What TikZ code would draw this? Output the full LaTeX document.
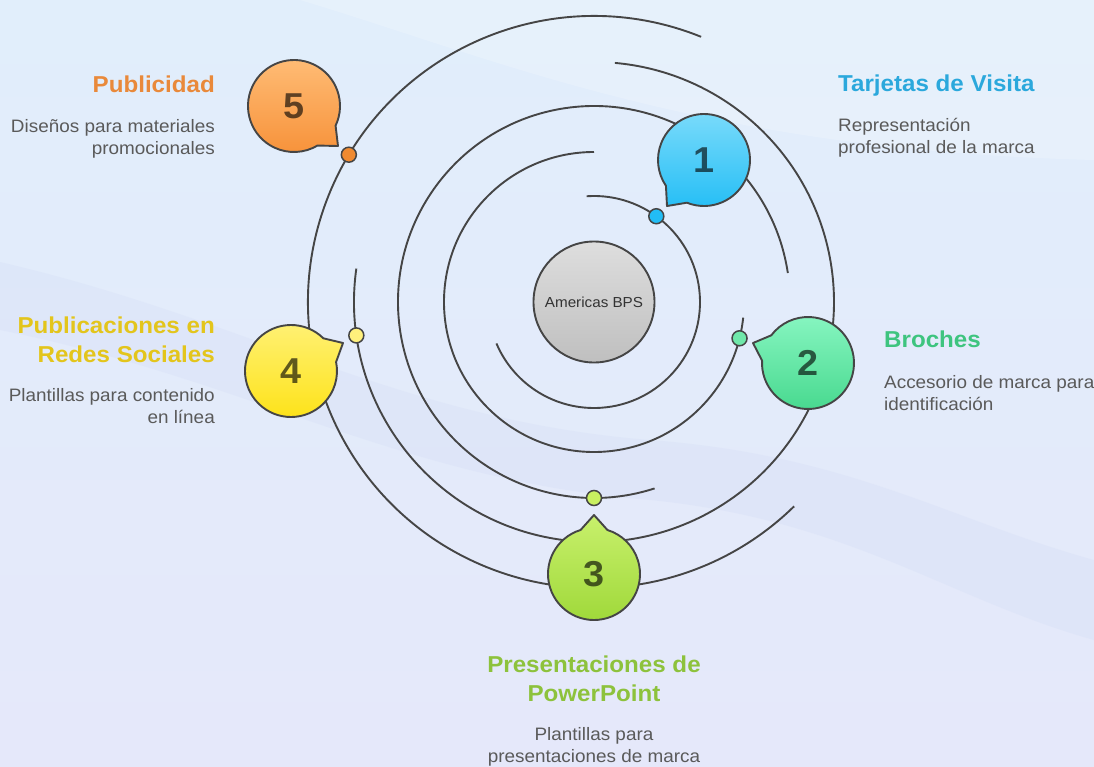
\documentclass[tikz,border=0pt]{standalone}
\usepackage{fontspec}
\setmainfont[FakeStretch=1.05]{Liberation Sans}
\usetikzlibrary{calc}
\definecolor{bgtop}{HTML}{E1EEFB}
\definecolor{bgbot}{HTML}{E5E8FA}
\definecolor{bandc}{HTML}{D3DCF6}
\definecolor{linec}{HTML}{454545}
\definecolor{bodyc}{HTML}{5A5A5A}
\definecolor{tOrange}{HTML}{E9893A}
\definecolor{tBlue}{HTML}{2BA8DC}
\definecolor{tGreen}{HTML}{3EC47F}
\definecolor{tYellow}{HTML}{E3C51C}
\definecolor{tLime}{HTML}{8DC23C}
\definecolor{aTop}{HTML}{7DDCFB}\definecolor{aBot}{HTML}{22BDF5}
\definecolor{bTop}{HTML}{86F5C0}\definecolor{bBot}{HTML}{48D98F}
\definecolor{cTop}{HTML}{C8F06C}\definecolor{cBot}{HTML}{9ED838}
\definecolor{dTop}{HTML}{FFF176}\definecolor{dBot}{HTML}{FDE216}
\definecolor{eTop}{HTML}{FFBE78}\definecolor{eBot}{HTML}{F7923A}
\definecolor{dotA}{HTML}{22BDF5}
\definecolor{dotB}{HTML}{6FE8AA}
\definecolor{dotC}{HTML}{C9F060}
\definecolor{dotD}{HTML}{FFF07C}
\definecolor{dotE}{HTML}{F08A30}
\newcommand\speechbubble[5]{%
  \path[bubble, top color=#4, bottom color=#5]
    ($(#1)+({#2+17}:46)$) arc[start angle={#2+17}, end angle={#2+343}, radius=46] -- (#3) -- cycle;}
\begin{document}
\begin{tikzpicture}[x=1pt,y=1pt,
  arcline/.style={draw=linec, line width=1.9pt},
  bubble/.style={draw=linec, line width=1.9pt, line join=round},
  dotnode/.style={circle, draw=linec, line width=1.5pt, minimum size=15pt, inner sep=0pt},
  num/.style={font=\fontsize{36}{36}\selectfont\bfseries, text=black, text opacity=0.62, inner sep=0pt},
  hubnode/.style={circle, draw=linec, line width=1.9pt, minimum size=121pt, inner sep=0pt,
    top color=gray!26, bottom color=gray!50, font=\fontsize{14.5}{16}\selectfont, text=black!80},
  ttl/.style={font=\fontsize{23}{29}\selectfont\bfseries, inner sep=0pt},
  body/.style={font=\fontsize{18}{22}\selectfont, text=bodyc, inner sep=0pt}]
\useasboundingbox (-594,-464) rectangle (500,302);
\shade[top color=bgtop, bottom color=bgbot] (-594,-464) rectangle (500,302);
\begin{scope}[shift={(-594,302)},yscale=-1]
  \fill[bandc, opacity=.3] (0,262) .. controls (250,320) and (400,420) .. (650,440)
     .. controls (850,455) and (950,520) .. (1094,560) -- (1094,640)
     .. controls (950,600) and (850,520) .. (650,500)
     .. controls (400,480) and (250,380) .. (0,330) -- cycle;
  \fill[white, opacity=.18] (300,0) .. controls (500,60) and (700,150) .. (1094,160) -- (1094,0) -- cycle;
\end{scope}
% orbits
\draw[arcline] (94:106) arc[start angle=94, end angle=-157, radius=106];
\draw[arcline] (90:150) arc[start angle=90, end angle=354, radius=150];
\draw[arcline] (8.5:196) arc[start angle=8.5, end angle=288, radius=196];
\draw[arcline] (172:240) arc[start angle=172, end angle=445, radius=240];
\draw[arcline] (68:286) arc[start angle=68, end angle=314.4, radius=286];
% hub
\node[hubnode] (hub) at (0,0) {Americas BPS};
% bubble centres and tips
\coordinate (c1) at (110,142);  \coordinate (t1) at (73,96);
\coordinate (c2) at (214,-61);  \coordinate (t2) at (159,-41);
\coordinate (c3) at (0,-272);   \coordinate (t3) at (0,-213);
\coordinate (c4) at (-303,-69); \coordinate (t4) at (-251,-41);
\coordinate (c5) at (-300,196); \coordinate (t5) at (-256,156);
\speechbubble{c1}{231.2}{t1}{aTop}{aBot}
\speechbubble{c2}{160}{t2}{bTop}{bBot}
\speechbubble{c3}{90}{t3}{cTop}{cBot}
\speechbubble{c4}{28.3}{t4}{dTop}{dBot}
\speechbubble{c5}{317.7}{t5}{eTop}{eBot}
\node[num] (n1) at (c1) {1};
\node[num] (n2) at (c2) {2};
\node[num] (n3) at (c3) {3};
\node[num] (n4) at (c4) {4};
\node[num] (n5) at (c5) {5};
% dots
\node[dotnode, fill=dotA] (d1) at (54:106) {};
\node[dotnode, fill=dotB] (d2) at (-14:150) {};
\node[dotnode, fill=dotC] (d3) at (270:196) {};
\node[dotnode, fill=dotD] (d4) at (188:240) {};
\node[dotnode, fill=dotE] (d5) at (149:286) {};
% texts
\node[ttl, text=tOrange, anchor=east] (h5) at (-379,218) {Publicidad};
\node[body, align=right, anchor=north east] (b5) at (-379,183) {Diseños para materiales\\promocionales};
\node[ttl, text=tBlue, anchor=north west] (h1) at (244,227) {Tarjetas de Visita};
\node[body, align=left, anchor=north west] (b1) at (244,184) {Representación\\profesional de la marca};
\node[ttl, text=tGreen, anchor=north west] (h2) at (290,-29) {Broches};
\node[body, align=left, anchor=north west] (b2) at (290,-73) {Accesorio de marca para\\identificación};
\node[ttl, text=tYellow, align=right, anchor=north east] (h4) at (-379,-15) {Publicaciones en\\Redes Sociales};
\node[body, align=right, anchor=north east] (b4) at (-379,-86) {Plantillas para contenido\\en línea};
\node[ttl, text=tLime, align=center, anchor=north] (h3) at (0,-354) {Presentaciones de\\PowerPoint};
\node[body, align=center, anchor=north] (b3) at (0,-425) {Plantillas para\\presentaciones de marca};
\end{tikzpicture}
\end{document}
